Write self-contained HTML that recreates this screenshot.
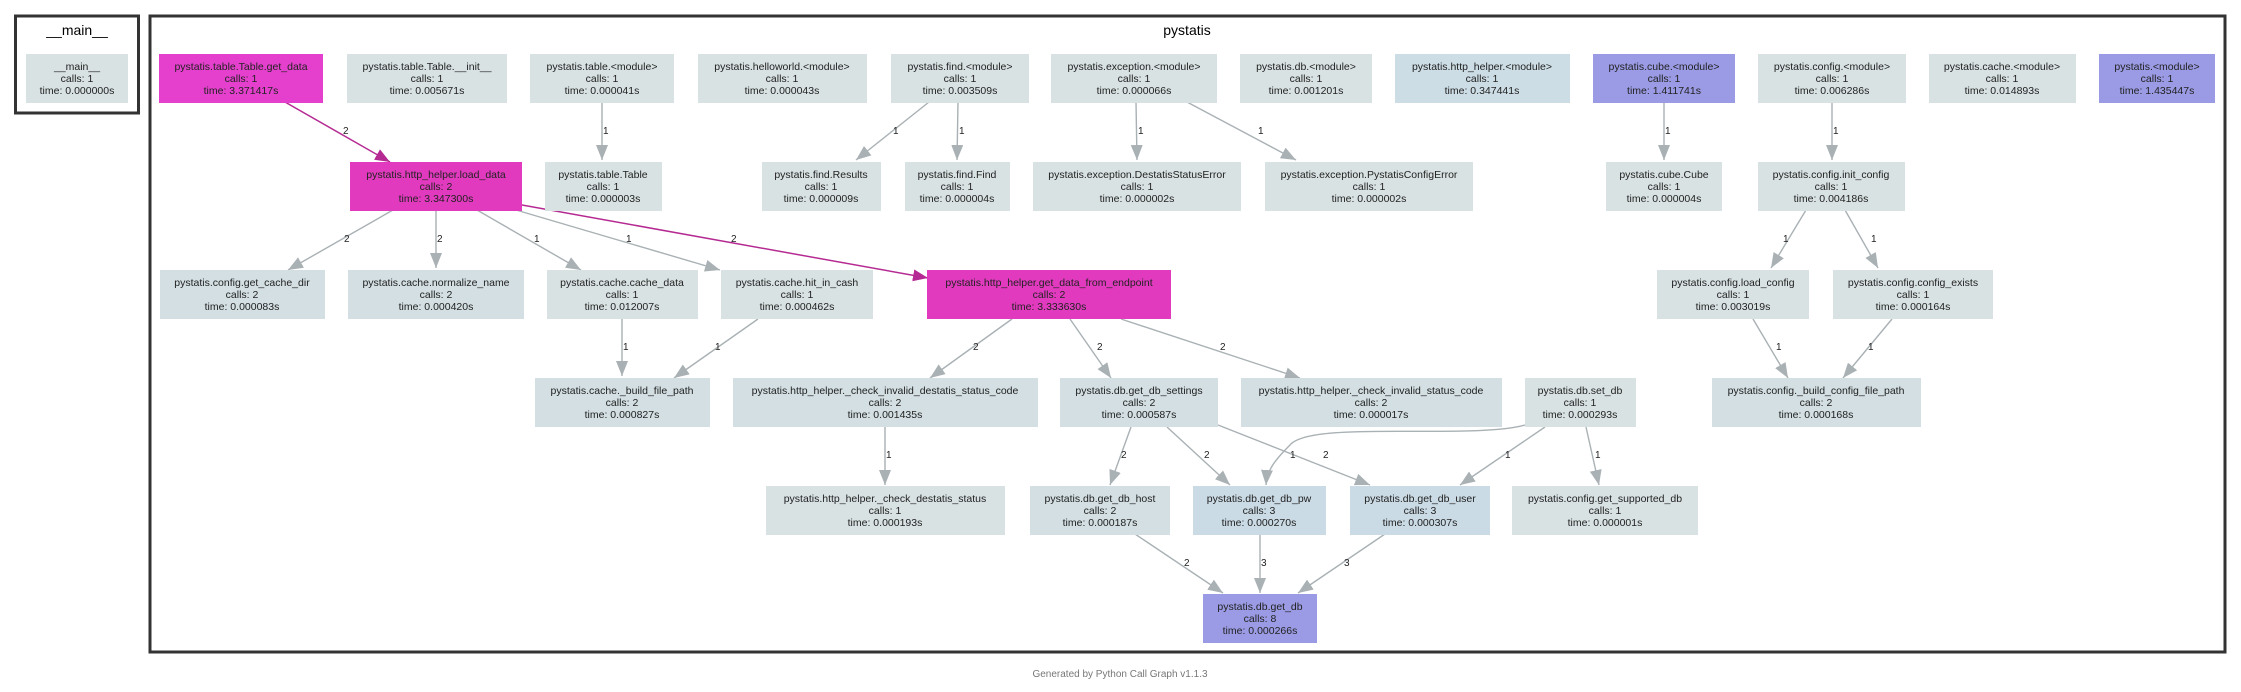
<!DOCTYPE html>
<html><head><meta charset="utf-8"><style>
html,body{margin:0;padding:0;background:#fff;}
svg{display:block;}
text{font-family:"Liberation Sans","DejaVu Sans",sans-serif;}
.n text{font-size:10.5px;fill:#222;text-anchor:middle;}
.l{font-size:10px;fill:#222;}
.g{stroke:#a9b1b4;stroke-width:1.4;fill:none;marker-end:url(#ag);}
.m{stroke:#b52a92;stroke-width:1.5;fill:none;marker-end:url(#am);}
</style></head><body>
<svg width="2241" height="692" viewBox="0 0 2241 692" xmlns="http://www.w3.org/2000/svg">
<defs>
<marker id="ag" markerUnits="userSpaceOnUse" markerWidth="16" markerHeight="12" refX="15" refY="6" orient="auto"><path d="M0,0 L15,6 L0,12 z" fill="#a9b1b4"/></marker>
<marker id="am" markerUnits="userSpaceOnUse" markerWidth="16" markerHeight="12" refX="15" refY="6" orient="auto"><path d="M0,0 L15,6 L0,12 z" fill="#b52a92"/></marker>
</defs>
<rect x="15.5" y="16" width="123" height="97" fill="none" stroke="#333" stroke-width="3"/>
<text x="77" y="35" font-size="14" text-anchor="middle">__main__</text>
<rect x="150" y="16" width="2075" height="636" fill="none" stroke="#333" stroke-width="3"/>
<text x="1187" y="35" font-size="14" text-anchor="middle">pystatis</text>
<text x="1120" y="677" font-size="10" fill="#777" text-anchor="middle">Generated by Python Call Graph v1.1.3</text>

<!-- edges -->
<path class="m" d="M285,102 L390,162"/><text class="l" x="343" y="134">2</text>
<path class="g" d="M602,102 L602,160"/><text class="l" x="603" y="134">1</text>
<path class="g" d="M929,102 L856,160"/><text class="l" x="893" y="134">1</text>
<path class="g" d="M958,102 L957,160"/><text class="l" x="959" y="134">1</text>
<path class="g" d="M1136,102 L1137,160"/><text class="l" x="1138" y="134">1</text>
<path class="g" d="M1187,102 L1296,160"/><text class="l" x="1258" y="134">1</text>
<path class="g" d="M1664,102 L1664,160"/><text class="l" x="1665" y="134">1</text>
<path class="g" d="M1832,102 L1832,160"/><text class="l" x="1833" y="134">1</text>
<path class="g" d="M393,210 L288,270"/><text class="l" x="344" y="242">2</text>
<path class="g" d="M436,210 L436,268"/><text class="l" x="437" y="242">2</text>
<path class="g" d="M477,210 L581,270"/><text class="l" x="534" y="242">1</text>
<path class="g" d="M516,210 L720,270"/><text class="l" x="626" y="242">1</text>
<path class="m" d="M522,205 L928,278"/><text class="l" x="731" y="242">2</text>
<path class="g" d="M1806,210 L1771,268"/><text class="l" x="1783" y="242">1</text>
<path class="g" d="M1845,210 L1878,268"/><text class="l" x="1871" y="242">1</text>
<path class="g" d="M622,319 L622,376"/><text class="l" x="623" y="350">1</text>
<path class="g" d="M758,319 L674,378"/><text class="l" x="715" y="350">1</text>
<path class="g" d="M1012,319 L930,378"/><text class="l" x="973" y="350">2</text>
<path class="g" d="M1070,319 L1111,378"/><text class="l" x="1097" y="350">2</text>
<path class="g" d="M1121,319 L1300,378"/><text class="l" x="1220" y="350">2</text>
<path class="g" d="M1753,319 L1788,378"/><text class="l" x="1776" y="350">1</text>
<path class="g" d="M1892,319 L1843,378"/><text class="l" x="1868" y="350">1</text>
<path class="g" d="M885,427 L885,485"/><text class="l" x="886" y="458">1</text>
<path class="g" d="M1131,427 L1110,485"/><text class="l" x="1121" y="458">2</text>
<path class="g" d="M1167,427 L1230,485"/><text class="l" x="1204" y="458">2</text>
<path class="g" d="M1218,425 L1370,485"/><text class="l" x="1323" y="458">2</text>
<path class="g" d="M1525,425 C1470,440 1310,420 1290,445 C1275,460 1267,470 1266,485"/><text class="l" x="1290" y="458">1</text>
<path class="g" d="M1545,427 L1460,485"/><text class="l" x="1505" y="458">1</text>
<path class="g" d="M1586,427 L1599,485"/><text class="l" x="1595" y="458">1</text>
<path class="g" d="M1135,534 L1223,593"/><text class="l" x="1184" y="566">2</text>
<path class="g" d="M1260,534 L1260,593"/><text class="l" x="1261" y="566">3</text>
<path class="g" d="M1385,534 L1298,593"/><text class="l" x="1344" y="566">3</text>

<!-- nodes -->
<g class="n">
<rect x="26" y="54" width="102" height="49" fill="#d9e2e3"/><text x="77" y="70">__main__</text><text x="77" y="82">calls: 1</text><text x="77" y="94">time: 0.000000s</text>

<rect x="159" y="54" width="164" height="49" fill="#e540cd"/><text x="241" y="70">pystatis.table.Table.get_data</text><text x="241" y="82">calls: 1</text><text x="241" y="94">time: 3.371417s</text>
<rect x="347" y="54" width="160" height="49" fill="#d9e2e3"/><text x="427" y="70">pystatis.table.Table.__init__</text><text x="427" y="82">calls: 1</text><text x="427" y="94">time: 0.005671s</text>
<rect x="530" y="54" width="144" height="49" fill="#d9e2e3"/><text x="602" y="70">pystatis.table.&lt;module&gt;</text><text x="602" y="82">calls: 1</text><text x="602" y="94">time: 0.000041s</text>
<rect x="698" y="54" width="169" height="49" fill="#d9e2e3"/><text x="782" y="70">pystatis.helloworld.&lt;module&gt;</text><text x="782" y="82">calls: 1</text><text x="782" y="94">time: 0.000043s</text>
<rect x="891" y="54" width="138" height="49" fill="#d9e2e3"/><text x="960" y="70">pystatis.find.&lt;module&gt;</text><text x="960" y="82">calls: 1</text><text x="960" y="94">time: 0.003509s</text>
<rect x="1051" y="54" width="166" height="49" fill="#d9e2e3"/><text x="1134" y="70">pystatis.exception.&lt;module&gt;</text><text x="1134" y="82">calls: 1</text><text x="1134" y="94">time: 0.000066s</text>
<rect x="1240" y="54" width="132" height="49" fill="#d9e2e3"/><text x="1306" y="70">pystatis.db.&lt;module&gt;</text><text x="1306" y="82">calls: 1</text><text x="1306" y="94">time: 0.001201s</text>
<rect x="1395" y="54" width="175" height="49" fill="#cddde5"/><text x="1482" y="70">pystatis.http_helper.&lt;module&gt;</text><text x="1482" y="82">calls: 1</text><text x="1482" y="94">time: 0.347441s</text>
<rect x="1593" y="54" width="142" height="49" fill="#9b9be5"/><text x="1664" y="70">pystatis.cube.&lt;module&gt;</text><text x="1664" y="82">calls: 1</text><text x="1664" y="94">time: 1.411741s</text>
<rect x="1758" y="54" width="148" height="49" fill="#d9e2e3"/><text x="1832" y="70">pystatis.config.&lt;module&gt;</text><text x="1832" y="82">calls: 1</text><text x="1832" y="94">time: 0.006286s</text>
<rect x="1929" y="54" width="147" height="49" fill="#d9e2e3"/><text x="2002" y="70">pystatis.cache.&lt;module&gt;</text><text x="2002" y="82">calls: 1</text><text x="2002" y="94">time: 0.014893s</text>
<rect x="2099" y="54" width="116" height="49" fill="#9b9be5"/><text x="2157" y="70">pystatis.&lt;module&gt;</text><text x="2157" y="82">calls: 1</text><text x="2157" y="94">time: 1.435447s</text>

<rect x="350" y="162" width="172" height="49" fill="#e23abf"/><text x="436" y="178">pystatis.http_helper.load_data</text><text x="436" y="190">calls: 2</text><text x="436" y="202">time: 3.347300s</text>
<rect x="545" y="162" width="117" height="49" fill="#d9e2e3"/><text x="603" y="178">pystatis.table.Table</text><text x="603" y="190">calls: 1</text><text x="603" y="202">time: 0.000003s</text>
<rect x="762" y="162" width="119" height="49" fill="#d9e2e3"/><text x="821" y="178">pystatis.find.Results</text><text x="821" y="190">calls: 1</text><text x="821" y="202">time: 0.000009s</text>
<rect x="905" y="162" width="105" height="49" fill="#d9e2e3"/><text x="957" y="178">pystatis.find.Find</text><text x="957" y="190">calls: 1</text><text x="957" y="202">time: 0.000004s</text>
<rect x="1033" y="162" width="208" height="49" fill="#d9e2e3"/><text x="1137" y="178">pystatis.exception.DestatisStatusError</text><text x="1137" y="190">calls: 1</text><text x="1137" y="202">time: 0.000002s</text>
<rect x="1265" y="162" width="208" height="49" fill="#d9e2e3"/><text x="1369" y="178">pystatis.exception.PystatisConfigError</text><text x="1369" y="190">calls: 1</text><text x="1369" y="202">time: 0.000002s</text>
<rect x="1606" y="162" width="116" height="49" fill="#d9e2e3"/><text x="1664" y="178">pystatis.cube.Cube</text><text x="1664" y="190">calls: 1</text><text x="1664" y="202">time: 0.000004s</text>
<rect x="1758" y="162" width="147" height="49" fill="#d9e2e3"/><text x="1831" y="178">pystatis.config.init_config</text><text x="1831" y="190">calls: 1</text><text x="1831" y="202">time: 0.004186s</text>

<rect x="160" y="270" width="165" height="49" fill="#d3dfe3"/><text x="242" y="286">pystatis.config.get_cache_dir</text><text x="242" y="298">calls: 2</text><text x="242" y="310">time: 0.000083s</text>
<rect x="348" y="270" width="176" height="49" fill="#d3dfe3"/><text x="436" y="286">pystatis.cache.normalize_name</text><text x="436" y="298">calls: 2</text><text x="436" y="310">time: 0.000420s</text>
<rect x="547" y="270" width="151" height="49" fill="#d9e2e3"/><text x="622" y="286">pystatis.cache.cache_data</text><text x="622" y="298">calls: 1</text><text x="622" y="310">time: 0.012007s</text>
<rect x="721" y="270" width="152" height="49" fill="#d9e2e3"/><text x="797" y="286">pystatis.cache.hit_in_cash</text><text x="797" y="298">calls: 1</text><text x="797" y="310">time: 0.000462s</text>
<rect x="927" y="270" width="244" height="49" fill="#e23abf"/><text x="1049" y="286">pystatis.http_helper.get_data_from_endpoint</text><text x="1049" y="298">calls: 2</text><text x="1049" y="310">time: 3.333630s</text>
<rect x="1657" y="270" width="152" height="49" fill="#d9e2e3"/><text x="1733" y="286">pystatis.config.load_config</text><text x="1733" y="298">calls: 1</text><text x="1733" y="310">time: 0.003019s</text>
<rect x="1833" y="270" width="160" height="49" fill="#d9e2e3"/><text x="1913" y="286">pystatis.config.config_exists</text><text x="1913" y="298">calls: 1</text><text x="1913" y="310">time: 0.000164s</text>

<rect x="535" y="378" width="175" height="49" fill="#d3dfe3"/><text x="622" y="394">pystatis.cache._build_file_path</text><text x="622" y="406">calls: 2</text><text x="622" y="418">time: 0.000827s</text>
<rect x="733" y="378" width="305" height="49" fill="#d3dfe3"/><text x="885" y="394">pystatis.http_helper._check_invalid_destatis_status_code</text><text x="885" y="406">calls: 2</text><text x="885" y="418">time: 0.001435s</text>
<rect x="1060" y="378" width="158" height="49" fill="#d3dfe3"/><text x="1139" y="394">pystatis.db.get_db_settings</text><text x="1139" y="406">calls: 2</text><text x="1139" y="418">time: 0.000587s</text>
<rect x="1241" y="378" width="261" height="49" fill="#d3dfe3"/><text x="1371" y="394">pystatis.http_helper._check_invalid_status_code</text><text x="1371" y="406">calls: 2</text><text x="1371" y="418">time: 0.000017s</text>
<rect x="1525" y="378" width="111" height="49" fill="#d9e2e3"/><text x="1580" y="394">pystatis.db.set_db</text><text x="1580" y="406">calls: 1</text><text x="1580" y="418">time: 0.000293s</text>
<rect x="1712" y="378" width="209" height="49" fill="#d3dfe3"/><text x="1816" y="394">pystatis.config._build_config_file_path</text><text x="1816" y="406">calls: 2</text><text x="1816" y="418">time: 0.000168s</text>

<rect x="766" y="486" width="239" height="49" fill="#d9e2e3"/><text x="885" y="502">pystatis.http_helper._check_destatis_status</text><text x="885" y="514">calls: 1</text><text x="885" y="526">time: 0.000193s</text>
<rect x="1030" y="486" width="140" height="49" fill="#d3dfe3"/><text x="1100" y="502">pystatis.db.get_db_host</text><text x="1100" y="514">calls: 2</text><text x="1100" y="526">time: 0.000187s</text>
<rect x="1193" y="486" width="133" height="49" fill="#cbdbe5"/><text x="1259" y="502">pystatis.db.get_db_pw</text><text x="1259" y="514">calls: 3</text><text x="1259" y="526">time: 0.000270s</text>
<rect x="1350" y="486" width="140" height="49" fill="#cbdbe5"/><text x="1420" y="502">pystatis.db.get_db_user</text><text x="1420" y="514">calls: 3</text><text x="1420" y="526">time: 0.000307s</text>
<rect x="1512" y="486" width="186" height="49" fill="#d9e2e3"/><text x="1605" y="502">pystatis.config.get_supported_db</text><text x="1605" y="514">calls: 1</text><text x="1605" y="526">time: 0.000001s</text>

<rect x="1203" y="594" width="114" height="49" fill="#9b9be5"/><text x="1260" y="610">pystatis.db.get_db</text><text x="1260" y="622">calls: 8</text><text x="1260" y="634">time: 0.000266s</text>
</g>
</svg>
</body></html>
